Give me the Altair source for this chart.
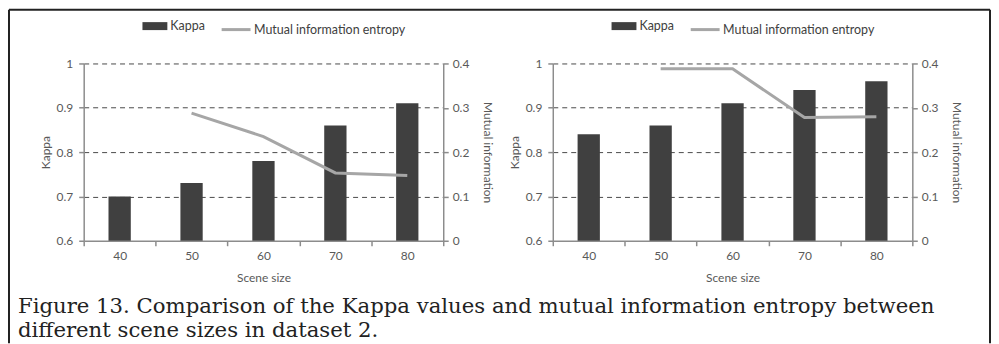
import altair as alt
import pandas as pd

scene_sizes = [40, 50, 60, 70, 80]
kappa_left = [0.70, 0.73, 0.78, 0.86, 0.91]
mi_left = [None, 0.288, 0.235, 0.153, 0.147]
kappa_right = [0.84, 0.86, 0.91, 0.94, 0.96]
mi_right = [None, 0.388, 0.388, 0.278, 0.280]
kappa_label = "Kappa"
mi_label = "Mutual information entropy"
x_title = "Scene size"
y_left_title = "Kappa"
y_right_title = "Mutual information"
caption_lines = [
    "Figure 13. Comparison of the Kappa values and mutual information entropy between",
    "different scene sizes in dataset 2.",
]

FONT = "Lato"
W, H = 361, 178
BAR = "#404040"
LINE = "#a6a6a6"
AX = "#8c8c8c"
TXT = "#595959"


def panel(kappa, mi, decorate):
    df = pd.DataFrame({"size": scene_sizes, "kappa": kappa, "mi": mi,
                       "s1": kappa_label, "s2": mi_label})
    x = alt.X("size:O", title=x_title,
              scale=alt.Scale(paddingInner=0, paddingOuter=0),
              axis=alt.Axis(labelAngle=0, tickBand="extent", labelPadding=5,
                            titlePadding=11))
    bars = alt.Chart(df).mark_bar(width={"band": 0.31}, clip=True).encode(
        x=x,
        y=alt.Y("kappa:Q", title=y_left_title,
                scale=alt.Scale(domain=[0.6, 1.0], zero=False, nice=False),
                axis=alt.Axis(values=[0.6, 0.7, 0.8, 0.9, 1.0], format="~g",
                              grid=True, gridDash=[5, 4], gridColor="#4a4a4a",
                              gridOpacity={"condition": {"test": "datum.value < 0.65", "value": 0}, "value": 1},
                              labelPadding=6, titlePadding=4)),
        color=alt.Color("s1:N", scale=alt.Scale(range=[BAR]),
                        legend=alt.Legend(orient="none", legendX=59, legendY=-50,
                                          title=None, symbolType="M-1,-0.32H1V0.32H-1Z",
                                          symbolSize=625, symbolStrokeWidth=0,
                                          labelFont=FONT, labelFontSize=12.5,
                                          labelColor=BAR, labelOffset=3)),
    )
    line = alt.Chart(df).transform_filter("isValid(datum.mi)").mark_line(strokeWidth=3).encode(
        x=x,
        y=alt.Y("mi:Q", title=y_right_title,
                scale=alt.Scale(domain=[0, 0.4], nice=False),
                axis=alt.Axis(orient="right", values=[0, 0.1, 0.2, 0.3, 0.4],
                              format="~g", grid=False, labelPadding=4,
                              titlePadding=12)),
        stroke=alt.Stroke("s2:N", scale=alt.Scale(range=[LINE]),
                          legend=alt.Legend(orient="none", legendX=137, legendY=-50,
                                            title=None, symbolType="stroke",
                                            symbolSize=841, symbolStrokeWidth=3,
                                            labelFont=FONT, labelFontSize=12.5,
                                            labelColor=BAR, labelOffset=2)),
    )
    layers = [bars, line]
    if decorate:
        one = alt.Data(values=[{}])
        frame_top = alt.Chart(one).mark_rule(color="#222222", strokeWidth=2).encode(
            x=alt.value(-75), x2=alt.value(910), y=alt.value(-54))
        frame_left = alt.Chart(one).mark_rule(color="#222222", strokeWidth=2).encode(
            x=alt.value(-75), y=alt.value(-54), y2=alt.value(281))
        frame_right = alt.Chart(one).mark_rule(color="#222222", strokeWidth=2).encode(
            x=alt.value(910), y=alt.value(-54), y2=alt.value(281))
        caption = alt.Chart(alt.Data(values=[{"t": "|".join(caption_lines)}])).mark_text(
            align="left", baseline="alphabetic", font="DejaVu Serif", fontSize=21.3,
            lineBreak="|", lineHeight=24, color="#222222").encode(
            text="t:N", x=alt.value(-66), y=alt.value(251))
        layers += [frame_top, frame_left, frame_right, caption]
    return alt.layer(*layers).resolve_scale(y="independent").properties(width=W, height=H)


left = panel(kappa_left, mi_left, True)
right = panel(kappa_right, mi_right, False)

chart = alt.hconcat(left, right, spacing=110, bounds="flush").resolve_scale(
    x="independent", y="independent", color="independent", stroke="independent"
).resolve_legend(color="independent", stroke="independent").properties(
    padding=0
).configure_view(stroke=None).configure_axis(
    domainColor=AX, domainWidth=1.5, tickColor=AX, tickWidth=1.5, tickSize=5,
    labelColor=TXT, labelFont=FONT,
    labelFontSize=12, titleFont=FONT, titleFontSize=12, titleColor=TXT,
    titleFontWeight="normal", grid=False
)

chart.save("out.html", embed_options={"renderer": "svg", "actions": False})
